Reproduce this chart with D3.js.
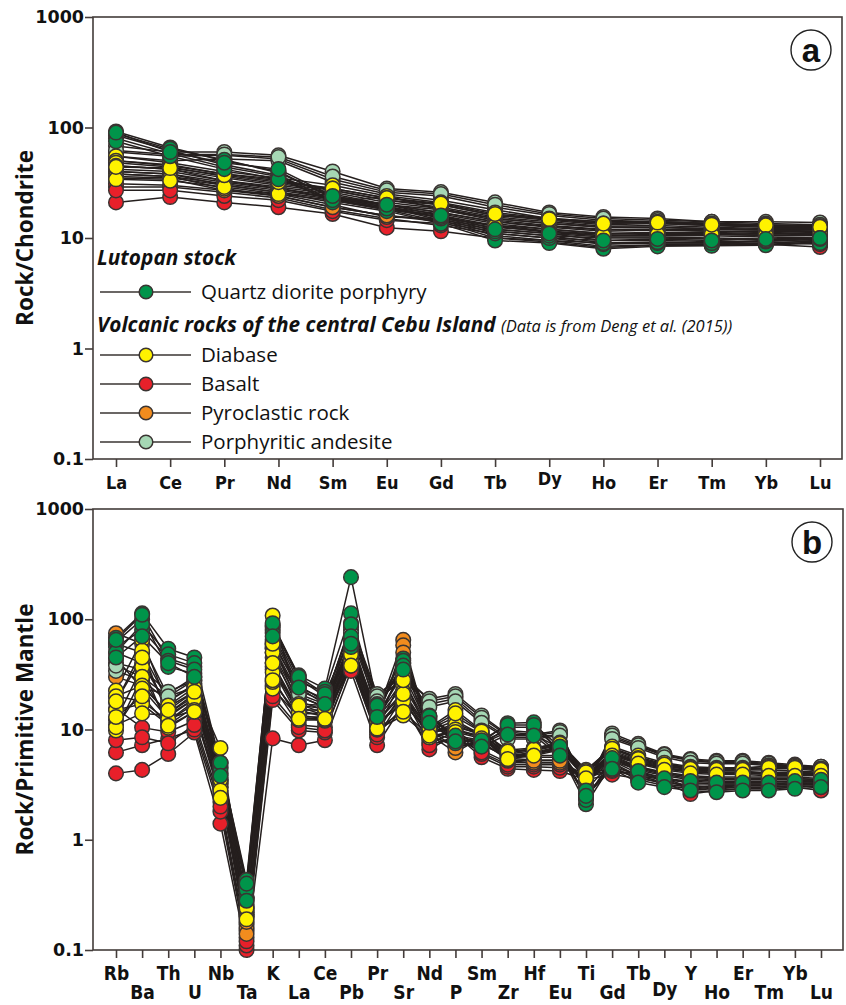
<!DOCTYPE html>
<html>
<head>
<meta charset="utf-8">
<script src="https://cdn.jsdelivr.net/npm/d3@7"></script>
<style>
  html, body { margin: 0; padding: 0; background: #ffffff; }
  svg { display: block; }
</style>
</head>
<body>
<div id="chart"></div>
<script>
// ---------------- DATA ----------------
const reeElements = ["La","Ce","Pr","Nd","Sm","Eu","Gd","Tb","Dy","Ho","Er","Tm","Yb","Lu"];
const spiderElements = ["Rb","Ba","Th","U","Nb","Ta","K","La","Ce","Pb","Pr","Sr","Nd","P","Sm","Zr","Hf","Eu","Ti","Gd","Tb","Dy","Y","Ho","Er","Tm","Yb","Lu"];
const yTickValues = [0.1, 1, 10, 100, 1000];
const yTickLabels = ["0.1", "1", "10", "100", "1000"];

const groupNames = ["Quartz diorite porphyry", "Diabase", "Basalt", "Pyroclastic rock", "Porphyritic andesite"];
const legendHeader1 = "Lutopan stock";
const legendHeader2 = "Volcanic rocks of the central Cebu Island";
const legendSource = "(Data is from Deng et al. (2015))";

// Chondrite-normalised REE (panel a)
const qdpREE = [
  [92, 66, 50, 40, 23, 19, 14.5, 10.5, 9.5, 8.4, 8.7, 8.7, 9.0, 9.4],
  [85, 62, 46, 37, 22, 18, 14, 10, 9.2, 8.2, 8.6, 8.6, 8.8, 9.2],
  [80, 58, 44, 36, 21, 17.5, 13.5, 9.5, 9.0, 8.0, 8.4, 8.5, 8.6, 9.0],
  [88, 64, 51, 39, 23.5, 19.5, 15, 11, 10, 8.8, 9.0, 9.0, 9.3, 9.8],
  [75, 55, 42, 34, 22, 18.5, 15.5, 11.5, 10.5, 9.0, 9.2, 9.0, 9.5, 10],
  [90, 60, 48, 42, 24, 20, 16, 12, 11, 9.5, 9.8, 9.5, 9.8, 10]
];
const diabaseREE = [
  [55, 48, 40, 35, 30, 24, 21, 17, 15, 13.5, 14, 13.5, 13.2, 12.8],
  [50, 45, 38, 33, 28, 23, 20, 16, 14.5, 13.2, 13.5, 13, 12.5, 12.5],
  [48, 44, 36, 31, 27, 22, 19, 15.5, 14, 12.8, 13, 12.5, 12.2, 12.2],
  [45, 42, 35, 30, 26, 21, 18.5, 15, 13.5, 12.5, 12.5, 12.2, 12, 12],
  [42, 40, 33, 29, 25, 20, 18, 14.5, 13, 12, 12, 12, 11.8, 11.8],
  [40, 38, 32, 28, 24, 20, 17, 14, 12.5, 11.5, 11.8, 11.5, 11.5, 11.5],
  [38, 36, 31, 27, 23, 19, 16.5, 13.5, 12, 11, 11.3, 11.2, 11, 11.2],
  [36, 35, 30, 26, 22.5, 18.5, 16, 13, 11.5, 10.8, 11, 11, 10.8, 11],
  [34, 33, 29, 25, 22, 18, 15.5, 12.8, 11.2, 10.5, 10.8, 10.8, 10.6, 10.8],
  [44, 43, 37, 32, 28, 23, 20.5, 16.5, 14.8, 13.5, 13.8, 13.2, 13, 12.6]
];
const basaltREE = [
  [21, 23.5, 21, 19, 16.5, 12.4, 11.5, 10, 9.5, 9, 9, 9, 8.8, 8.3],
  [29, 29, 26, 23, 18, 15, 13, 11, 10, 9.5, 9.5, 9.3, 9.2, 8.8],
  [31, 30, 27, 24, 19, 16, 14, 12, 11, 10.2, 10.2, 10, 9.8, 9.5],
  [27, 27, 24, 22, 17.5, 14.5, 13.5, 11.5, 10.5, 10, 10, 9.8, 9.6, 9.2]
];
const pyroclasticREE = [
  [35, 34, 27, 25, 20, 15.5, 15, 13, 12, 11, 11, 10.8, 10.5, 10.5],
  [40, 38, 30, 26, 21, 24, 18, 15, 13.5, 12.5, 12.5, 12, 11.8, 11.5],
  [45, 42, 33, 28, 23, 20, 17, 14, 12.8, 11.8, 12, 11.5, 11.2, 11],
  [38, 36, 28, 24, 19, 16, 14.5, 12.5, 11.5, 10.5, 10.5, 10.5, 10.2, 10],
  [50, 46, 38, 34, 27, 22, 20, 16, 15, 14, 14, 13.5, 13, 13]
];
const andesiteREE = [
  [68, 60, 60, 56, 40, 28, 26, 21, 17, 15.5, 15, 14, 14, 13.8],
  [60, 55, 56, 52, 34, 26, 24, 19, 16, 14.5, 14, 13.5, 13, 13],
  [55, 50, 52, 50, 32, 25, 22, 18, 15, 14, 13.5, 13, 12.8, 12.5],
  [62, 57, 57, 54, 36, 27, 25, 20, 16.5, 15, 14.5, 14, 13.5, 13.2]
];

// Primitive-mantle-normalised trace elements (panel b)
const qdpSpider = [
  [68, 113, 54, 45, 4.9, 0.43, 88, 31, 23.5, 241, 17, 44, 13.4, 8.0, 7.6, 11.4, 11.6, 6.2, 2.1, 4.9, 3.7, 3.2, 3.0, 2.9, 3.0, 3.0, 3.1, 3.2],
  [56, 80, 44, 37, 4.0, 0.30, 80, 27, 22, 113, 16, 37, 13, 8.5, 7.8, 9.8, 9.4, 6.0, 2.6, 4.6, 3.5, 3.1, 2.9, 2.8, 2.9, 2.9, 3.0, 3.1],
  [62, 100, 37, 32, 4.5, 0.38, 85, 29, 20, 56, 15, 40, 12.5, 7.5, 7.2, 10.5, 10.5, 6.5, 2.4, 5.0, 3.8, 3.3, 3.1, 3.0, 3.1, 3.1, 3.2, 3.3],
  [50, 90, 48, 40, 4.2, 0.35, 75, 25, 18, 90, 14, 42, 12, 8.2, 7.4, 9.5, 9.0, 6.8, 2.8, 5.2, 4.0, 3.5, 3.3, 3.2, 3.2, 3.2, 3.3, 3.4],
  [65, 110, 42, 35, 5.0, 0.40, 92, 30, 21, 70, 16.5, 38, 13.2, 8.8, 8.0, 11, 11, 7.0, 2.3, 5.5, 4.2, 3.6, 3.4, 3.3, 3.3, 3.3, 3.4, 3.5],
  [45, 70, 40, 30, 3.8, 0.28, 70, 24, 17, 60, 13, 35, 11.5, 7.8, 7.0, 9.0, 8.8, 5.8, 2.5, 4.4, 3.3, 3.0, 2.8, 2.7, 2.8, 2.8, 2.9, 3.0]
];
const diabaseSpider = [
  [22.5, 65, 16.5, 24, 6.8, 0.25, 108, 17, 16.5, 67, 13.4, 32, 10.4, 15, 9.8, 6.2, 6.7, 7.6, 4.3, 6.8, 5.6, 4.9, 4.5, 4.4, 4.4, 4.7, 4.7, 4.4],
  [17.7, 52, 13, 19, 3.2, 0.22, 37, 14, 14, 45, 10.9, 19.5, 9.2, 11.4, 9.0, 6.0, 6.4, 7.2, 3.6, 6.4, 5.3, 4.7, 4.3, 4.2, 4.2, 4.0, 4.0, 4.0],
  [12.2, 37, 10.4, 14.5, 2.6, 0.20, 29, 12.2, 12.2, 40, 10, 13.4, 8.5, 9.8, 8.5, 5.5, 6.0, 6.8, 3.8, 6.0, 5.0, 4.5, 4.2, 4.0, 4.0, 3.9, 3.9, 3.9],
  [9.8, 30, 12, 17, 3.0, 0.24, 23.5, 13, 13, 50, 11.5, 17, 9.6, 10.5, 9.2, 5.8, 6.2, 7.0, 3.9, 6.2, 5.2, 4.6, 4.4, 4.3, 4.3, 4.3, 4.2, 4.1],
  [20, 25, 14, 21, 5.0, 0.23, 50, 15, 15, 60, 12.5, 25, 10, 13, 9.5, 6.5, 6.8, 7.5, 4.2, 7.0, 5.8, 5.0, 4.6, 4.5, 4.5, 4.6, 4.6, 4.3],
  [15, 17, 11, 16, 4.0, 0.21, 33, 16, 13.5, 55, 12, 22, 9.8, 12, 9.0, 6.2, 6.5, 7.3, 4.0, 6.6, 5.5, 4.8, 4.5, 4.4, 4.4, 4.4, 4.4, 4.2],
  [11, 14, 13.5, 19, 3.5, 0.22, 27, 13.5, 12.5, 42, 11, 18, 9.0, 11, 8.8, 5.6, 6.0, 6.6, 3.7, 6.0, 5.0, 4.4, 4.1, 4.0, 4.0, 4.0, 4.0, 3.9],
  [10.5, 23.5, 12.5, 15, 2.8, 0.20, 40, 14, 14, 48, 11.8, 21, 9.5, 10, 8.7, 5.7, 6.1, 6.9, 3.5, 6.1, 5.1, 4.5, 4.2, 4.1, 4.1, 4.1, 4.1, 4.0],
  [18, 45, 15, 22, 4.5, 0.24, 60, 16.5, 15.5, 62, 13, 28, 10.2, 14, 9.6, 6.3, 6.6, 7.4, 4.1, 6.7, 5.4, 4.8, 4.4, 4.3, 4.3, 4.5, 4.5, 4.3],
  [13, 20, 10.8, 14.5, 2.4, 0.19, 28, 12.5, 12.5, 38, 10.2, 14.5, 8.8, 9.5, 8.3, 5.4, 5.8, 6.5, 3.6, 5.8, 4.9, 4.3, 4.0, 3.9, 3.9, 3.8, 3.8, 3.8]
];
const basaltSpider = [
  [4.0, 4.3, 6.0, 9.4, 1.4, 0.10, 8.3, 7.2, 8.0, 34, 7.2, 17, 6.6, 9.0, 5.6, 4.4, 4.3, 4.2, 3.5, 3.9, 3.6, 3.3, 2.6, 2.8, 2.9, 2.9, 3.0, 2.8],
  [6.2, 7.2, 8.3, 10, 1.8, 0.11, 18.5, 9.8, 9.4, 40, 8.5, 20, 7.5, 9.5, 6.0, 4.6, 4.6, 4.5, 3.7, 4.2, 3.8, 3.5, 2.9, 3.0, 3.0, 3.0, 3.1, 3.0],
  [15.5, 10.4, 9.5, 12, 2.2, 0.13, 25, 11, 10.5, 45, 9.5, 22, 8.0, 10, 6.5, 5.0, 5.0, 5.0, 3.9, 4.5, 4.0, 3.7, 3.2, 3.2, 3.2, 3.2, 3.3, 3.2],
  [8.0, 8.5, 7.5, 11, 2.0, 0.12, 20, 10.5, 9.8, 38, 9.0, 16, 7.2, 8.5, 6.2, 4.8, 4.8, 4.8, 3.8, 4.3, 3.9, 3.6, 3.0, 3.1, 3.1, 3.1, 3.2, 3.1]
];
const pyroclasticSpider = [
  [74.6, 60, 20, 28, 3.8, 0.17, 54, 20, 16, 55, 14, 65, 9.0, 6.2, 8.5, 5.2, 5.0, 5.0, 3.5, 5.5, 4.5, 4.0, 3.7, 3.6, 3.6, 3.6, 3.6, 3.5],
  [50, 40, 16, 22, 3.0, 0.15, 45, 17, 14, 50, 12, 58, 8.9, 7.0, 7.5, 5.5, 5.3, 5.3, 3.3, 5.2, 4.3, 3.8, 3.5, 3.4, 3.4, 3.4, 3.4, 3.3],
  [30, 25, 14, 20, 3.3, 0.16, 40, 15, 13, 45, 11, 40, 9.5, 8.0, 8.0, 6.0, 5.8, 5.8, 3.4, 5.8, 4.6, 4.1, 3.8, 3.7, 3.7, 3.7, 3.7, 3.6],
  [20, 18, 12, 18, 2.8, 0.14, 35, 13, 12, 42, 10, 30, 8.5, 7.5, 7.2, 5.8, 5.6, 5.6, 3.4, 5.4, 4.4, 3.9, 3.6, 3.5, 3.5, 3.5, 3.5, 3.4],
  [60, 50, 18, 25, 3.5, 0.18, 50, 18, 15, 52, 13, 50, 10, 6.8, 7.8, 5.3, 5.2, 5.2, 3.6, 5.6, 4.6, 4.0, 3.7, 3.6, 3.6, 3.6, 3.6, 3.5]
];
const andesiteSpider = [
  [44, 23.5, 21, 30, 3.5, 0.30, 65, 22.5, 18, 92, 21, 30, 19, 21, 13.4, 9.0, 9.0, 9.8, 3.0, 9.2, 7.4, 6.0, 5.4, 5.2, 5.2, 5.0, 4.8, 4.6],
  [34, 28, 18, 26, 3.2, 0.28, 55, 20, 16, 80, 19, 28, 17, 19, 12, 8.5, 8.5, 9.0, 3.2, 8.5, 7.0, 5.8, 5.2, 5.0, 5.0, 4.8, 4.6, 4.5],
  [40, 35, 22, 28, 3.4, 0.30, 60, 24, 19, 85, 20, 32, 18, 20, 12.8, 8.8, 8.8, 9.5, 3.1, 8.8, 7.2, 5.9, 5.3, 5.1, 5.1, 4.9, 4.7, 4.6],
  [38, 30, 20, 24, 3.0, 0.26, 58, 21, 17, 75, 18, 30, 16, 18, 11.5, 8.2, 8.2, 8.8, 3.3, 8.2, 6.8, 5.6, 5.0, 4.9, 4.9, 4.7, 4.5, 4.4]
];

// ---------------- STYLE ----------------
const groupColors = {
  "Quartz diorite porphyry": "#00944a",
  "Diabase": "#fff200",
  "Basalt": "#e8202a",
  "Pyroclastic rock": "#f28c1e",
  "Porphyritic andesite": "#a6d7b4"
};
const lineColor = "#251f1e";
const markerStroke = "#3a3432";
const axisColor = "#433c3a";

const W = 846, H = 1005;
const svg = d3.select("#chart").append("svg").attr("width", W).attr("height", H);

function drawPanel(cfg) {
  const g = svg.append("g");
  const x = d3.scalePoint().domain(cfg.elements).range(cfg.xRange);
  const y = d3.scaleLog().domain([0.1, 1000]).range([cfg.bottom, cfg.top]);

  // frame
  g.append("rect")
    .attr("x", cfg.left).attr("y", cfg.top)
    .attr("width", cfg.right - cfg.left).attr("height", cfg.bottom - cfg.top)
    .attr("fill", "none").attr("stroke", axisColor).attr("stroke-width", 1.6);

  // y axis
  const yAxis = d3.axisLeft(y).tickValues(yTickValues)
    .tickFormat((d, i) => yTickLabels[i]).tickSize(8).tickPadding(1);
  const ya = g.append("g").attr("transform", `translate(${cfg.left},0)`).call(yAxis);
  ya.select(".domain").remove();
  ya.selectAll("line").attr("stroke", axisColor).attr("stroke-width", 1.6);
  ya.selectAll("text").attr("fill", "#111")
    .style("font-family", "'DejaVu Sans', sans-serif").style("font-weight", "bold").style("font-size", "17.5px");

  // x axis
  const xAxis = d3.axisBottom(x).tickSize(8).tickPadding(cfg.tickPad);
  const xa = g.append("g").attr("transform", `translate(0,${cfg.bottom})`).call(xAxis);
  xa.select(".domain").remove();
  xa.selectAll("line").attr("stroke", axisColor).attr("stroke-width", 1.6);
  xa.selectAll("text").attr("fill", "#111")
    .style("font-family", "'DejaVu Sans Condensed', 'DejaVu Sans', sans-serif")
    .style("font-stretch", "condensed")
    .style("font-weight", "bold").style("font-size", cfg.labelSize + "px")
    .attr("dy", (d, i) => {
      let off = 0.71;
      if (cfg.alternate && i % 2 === 1) off += cfg.altShift;
      if (d === "Dy") off -= 0.2;
      return off + "em";
    });

  // y title
  g.append("text")
    .attr("transform", `translate(${cfg.titleX},${(cfg.top + cfg.bottom) / 2}) rotate(-90)`)
    .attr("text-anchor", "middle")
    .style("font-family", "'Open Sans', sans-serif").style("font-weight", "bold").style("font-size", "22.5px")
    .attr("fill", "#111").text(cfg.yTitle);

  // panel letter
  g.append("circle").attr("cx", cfg.right - 31).attr("cy", cfg.top + 33).attr("r", 20)
    .attr("fill", "#fff").attr("stroke", "#222").attr("stroke-width", 1.4);
  g.append("text").attr("x", cfg.right - 31).attr("y", cfg.top + 33)
    .attr("text-anchor", "middle").attr("dy", "0.36em")
    .style("font-family", "'Liberation Sans', Arial, sans-serif").style("font-weight", "bold").style("font-size", "33px")
    .attr("fill", "#111").text(cfg.letter);

  const line = d3.line().x((d, i) => x(cfg.elements[i])).y(d => y(d));
  const all = [];
  cfg.groups.forEach(gr => gr.samples.forEach(s => all.push({ name: gr.name, values: s })));

  g.append("g").selectAll("path").data(all).join("path")
    .attr("d", d => line(d.values)).attr("fill", "none")
    .attr("stroke", lineColor).attr("stroke-width", 1.5).attr("stroke-linejoin", "round");

  const drawOrder = ["Basalt", "Pyroclastic rock", "Porphyritic andesite", "Diabase", "Quartz diorite porphyry"];
  drawOrder.forEach(name => {
    const gr = cfg.groups.find(q => q.name === name);
    const pts = [];
    gr.samples.forEach(s => s.forEach((v, i) => pts.push({ el: cfg.elements[i], v })));
    g.append("g").selectAll("circle").data(pts).join("circle")
      .attr("cx", d => x(d.el)).attr("cy", d => y(d.v)).attr("r", 7.3)
      .attr("fill", groupColors[name]).attr("stroke", markerStroke).attr("stroke-width", 1.5);
  });
  return { x, y, g };
}

drawPanel({
  elements: reeElements, xRange: [116, 820], left: 93, right: 842, top: 17, bottom: 459,
  tickPad: 9, labelSize: 18, alternate: false, yTitle: "Rock/Chondrite", titleX: 33, letter: "a",
  groups: [
    { name: groupNames[0], samples: qdpREE },
    { name: groupNames[1], samples: diabaseREE },
    { name: groupNames[2], samples: basaltREE },
    { name: groupNames[3], samples: pyroclasticREE },
    { name: groupNames[4], samples: andesiteREE }
  ]
});

drawPanel({
  elements: spiderElements, xRange: [116, 821], left: 93, right: 843, top: 509, bottom: 950,
  tickPad: 9, labelSize: 19, alternate: true, altShift: 1.0, yTitle: "Rock/Primitive Mantle", titleX: 33, letter: "b",
  groups: [
    { name: groupNames[0], samples: qdpSpider },
    { name: groupNames[1], samples: diabaseSpider },
    { name: groupNames[2], samples: basaltSpider },
    { name: groupNames[3], samples: pyroclasticSpider },
    { name: groupNames[4], samples: andesiteSpider }
  ]
});

// ---------------- LEGEND (panel a) ----------------
const lg = svg.append("g");
const headerStyle = sel => sel.style("font-family", "'Open Sans', sans-serif")
  .style("font-weight", "bold").style("font-style", "italic").style("font-size", "20.8px").attr("fill", "#111");
headerStyle(lg.append("text").attr("x", 97).attr("y", 265).text(legendHeader1));
const h2 = lg.append("text").attr("x", 97).attr("y", 332);
headerStyle(h2.append("tspan").text(legendHeader2 + " "));
h2.append("tspan").style("font-family", "'Open Sans', sans-serif").style("font-style", "italic")
  .style("font-weight", "normal").style("font-size", "16.5px").attr("fill", "#111").text(legendSource);

const legendRows = [
  { name: groupNames[0], y: 292 },
  { name: groupNames[1], y: 355 },
  { name: groupNames[2], y: 384 },
  { name: groupNames[3], y: 413 },
  { name: groupNames[4], y: 442 }
];
legendRows.forEach(r => {
  lg.append("line").attr("x1", 100).attr("x2", 191).attr("y1", r.y).attr("y2", r.y)
    .attr("stroke", "#3a3432").attr("stroke-width", 1.5);
  lg.append("circle").attr("cx", 146).attr("cy", r.y).attr("r", 6.8)
    .attr("fill", groupColors[r.name]).attr("stroke", markerStroke).attr("stroke-width", 1.5);
  lg.append("text").attr("x", 201).attr("y", r.y).attr("dy", "0.35em")
    .style("font-family", "'Open Sans', sans-serif").style("font-size", "20.5px").attr("fill", "#111")
    .text(r.name);
});
</script>
</body>
</html>
